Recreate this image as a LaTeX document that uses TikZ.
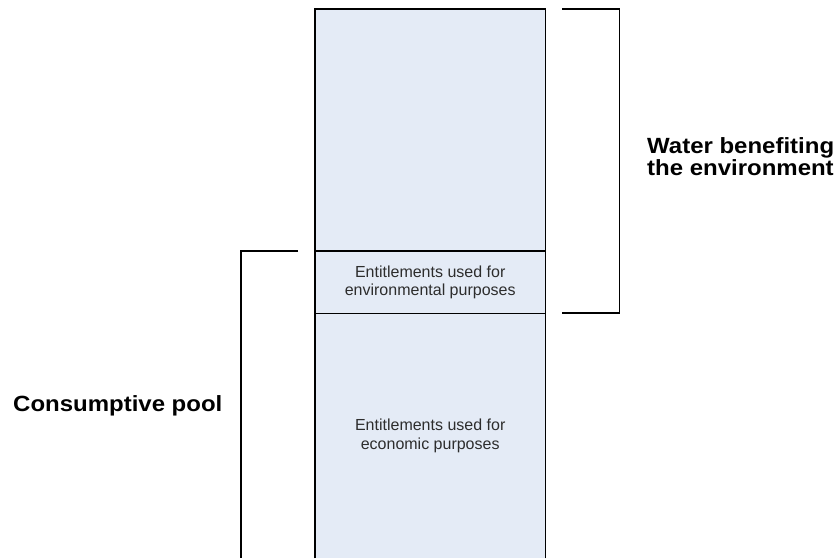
\documentclass[tikz,border=0pt]{standalone}
\usepackage{fontspec}
\usepackage{graphicx}
\setmainfont{Liberation Sans}
\definecolor{colfill}{RGB}{228,235,246}
\definecolor{smalltext}{RGB}{45,45,45}
\begin{document}
\begin{tikzpicture}[x=1pt,y=-1pt,
  sect/.style={fill=colfill,inner sep=0pt,minimum width=230pt,anchor=north west,
    font=\fontsize{16}{18.5}\selectfont,text=smalltext,align=center},
  lin/.style={line width=1.8pt},
  biglabel/.style={inner sep=0pt,anchor=base west,font=\fontsize{22}{22}\bfseries\selectfont}]
\useasboundingbox (0,0) rectangle (837,558);
% column sections
\node[sect,minimum height=242pt] (top) at (315,9) {};
\node[sect,minimum height=62pt] (mid) at (315,251) {Entitlements used for\\environmental purposes};
\node[sect,minimum height=245pt] (bot) at (315,313) {Entitlements used for\\economic purposes};
\draw[lin] (top.south west) rectangle (top.north east);
\draw[lin] (mid.south west) rectangle (mid.north east);
\draw[lin] (bot.south west) -- (bot.north west);
\draw[lin] (bot.south east) -- (bot.north east);
% right bracket
\coordinate (rb1) at (562,9);
\coordinate (rb2) at (619.5,9);
\coordinate (rb3) at (619.5,313);
\coordinate (rb4) at (562,313);
\draw[lin] (rb1) -- (rb2) -- (rb3) -- (rb4);
% left bracket
\coordinate (lb1) at (298,251);
\coordinate (lb2) at (241,251);
\coordinate (lb3) at (241,558);
\draw[lin] (lb1) -- (lb2) -- (lb3);
% labels
\node[biglabel] (water1) at (647,153) {\scalebox{1.09}[1]{Water benefiting}};
\node[biglabel] (water2) at (647,175) {\scalebox{1.09}[1]{the environment}};
\node[biglabel] (cons) at (13,411) {\scalebox{1.09}[1]{Consumptive pool}};
\end{tikzpicture}
\end{document}
